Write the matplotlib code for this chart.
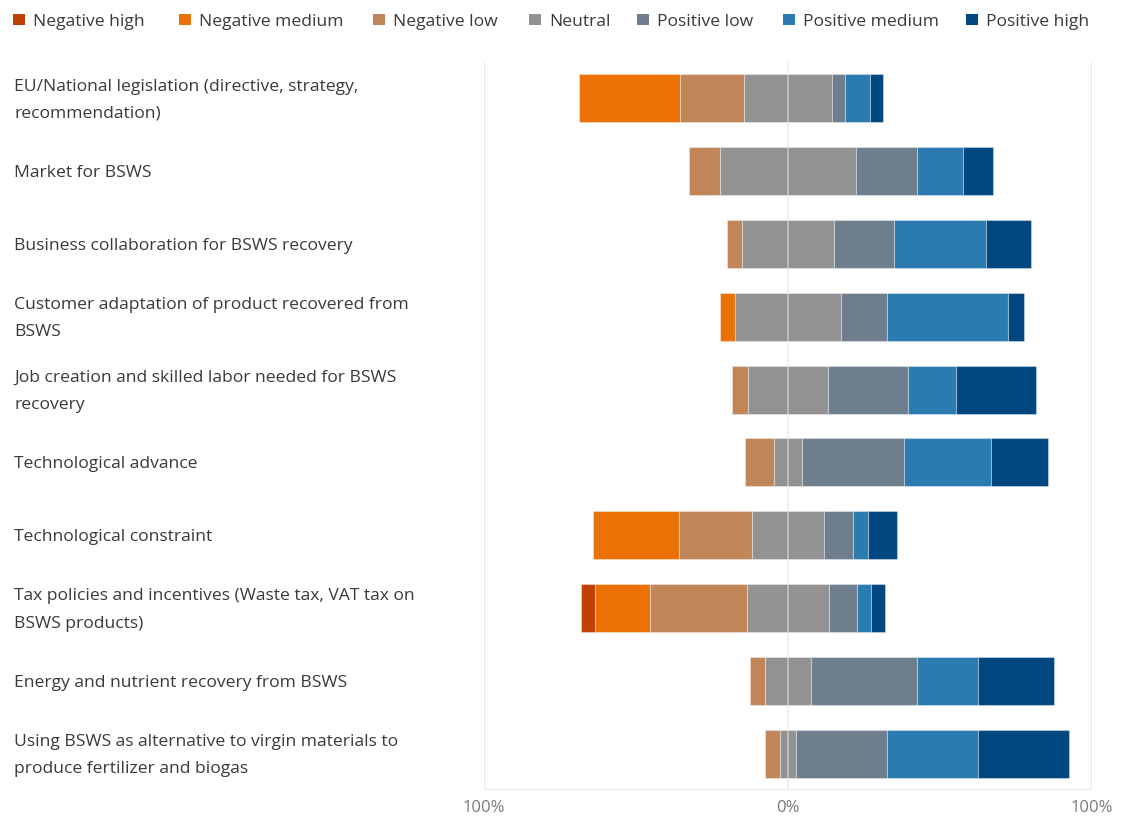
import matplotlib
matplotlib.use("Agg")
import matplotlib.pyplot as plt
import numpy as np
from matplotlib.patches import Rectangle

categories = [
    "EU/National legislation (directive, strategy,\nrecommendation)",
    "Market for BSWS",
    "Business collaboration for BSWS recovery",
    "Customer adaptation of product recovered from\nBSWS",
    "Job creation and skilled labor needed for BSWS\nrecovery",
    "Technological advance",
    "Technological constraint",
    "Tax policies and incentives (Waste tax, VAT tax on\nBSWS products)",
    "Energy and nutrient recovery from BSWS",
    "Using BSWS as alternative to virgin materials to\nproduce fertilizer and biogas",
]
series_names = ["Negative high", "Negative medium", "Negative low", "Neutral",
                "Positive low", "Positive medium", "Positive high"]
negative_high = [0.0, 0.0, 0.0, 0.0, 0.0, 0.0, 0.0, 4.5, 0.0, 0.0]
negative_medium = [33.3, 0.0, 0.0, 5.0, 0.0, 0.0, 28.6, 18.2, 0.0, 0.0]
negative_low = [20.8, 10.0, 5.0, 0.0, 5.3, 9.5, 23.8, 31.8, 5.0, 5.0]
neutral = [29.2, 45.0, 30.0, 35.0, 26.3, 9.5, 23.8, 27.3, 15.0, 5.0]
positive_low = [4.2, 20.0, 20.0, 15.0, 26.3, 33.3, 9.5, 9.1, 35.0, 30.0]
positive_medium = [8.3, 15.0, 30.0, 40.0, 15.8, 28.6, 4.8, 4.5, 20.0, 30.0]
positive_high = [4.2, 10.0, 15.0, 5.0, 26.3, 19.0, 9.5, 4.5, 25.0, 30.0]
x_ticks = [-100, 0, 100]
x_tick_labels = ["100%", "0%", "100%"]

colors = ["#C04106", "#EB7107", "#C08559", "#929292", "#6F7E8D", "#2B7AB0", "#00467F"]
legend_x_px = [13, 179, 373, 529, 637, 783, 966]

plt.rcParams['font.family'] = ['Open Sans', 'DejaVu Sans']

W, H = 1125, 819
fig = plt.figure(figsize=(W / 100, H / 100), dpi=100)
ax = fig.add_axes([484/W, 1 - 790/H, (1092 - 484)/W, (790 - 62)/H])

n = len(categories)
y = np.arange(n)
nh = np.array(negative_high); nm = np.array(negative_medium); nl = np.array(negative_low)
ne = np.array(neutral); pl = np.array(positive_low); pm = np.array(positive_medium)
ph = np.array(positive_high)

start = -(nh + nm + nl + ne / 2)
segs = [nh, nm, nl, ne, pl, pm, ph]
left = start.copy()
bh = 0.66
for vals, col, name in zip(segs, colors, series_names):
    ax.barh(y, vals, left=left, height=bh, color=col, edgecolor=(1, 1, 1, 0.35),
            linewidth=0.8, zorder=2, label=name)
    left = left + vals

ax.set_xlim(-100, 100)
ax.set_ylim(n - 0.5, -0.5)
for xv in x_ticks:
    if xv == 0:
        ax.axvline(xv, color="#E2E2E2", lw=1.2, zorder=3, alpha=0.6)
    else:
        ax.axvline(xv, color="#E6E6E6", lw=1.2, zorder=1)
ax.axhline(n - 0.5, color="#E6E6E6", lw=1.2, zorder=1)

ax.set_xticks(x_ticks)
ax.set_xticklabels(x_tick_labels, color="#7A7A7A", fontsize=12)
ax.tick_params(axis="x", length=0, pad=7)
ax.set_yticks([])
for s in ax.spines.values():
    s.set_visible(False)

for i, lab in enumerate(categories):
    fig.text(14/W, 1 - (64 + (i + 0.5) * 72.8)/H, lab, ha="left", va="center",
             fontsize=12.6, color="#3A3A3A", linespacing=1.93)

# legend
for xp, col, name in zip(legend_x_px, colors, series_names):
    fig.patches.append(Rectangle((xp / W, 1 - 25 / H), 11.5 / W, 11.5 / H,
                                 transform=fig.transFigure, facecolor=col,
                                 edgecolor='none'))
    fig.text((xp + 20) / W, 1 - 19.5 / H, name, ha="left", va="center_baseline",
             fontsize=12.6, color="#3A3A3A")

fig.savefig("out.png", dpi=100)
